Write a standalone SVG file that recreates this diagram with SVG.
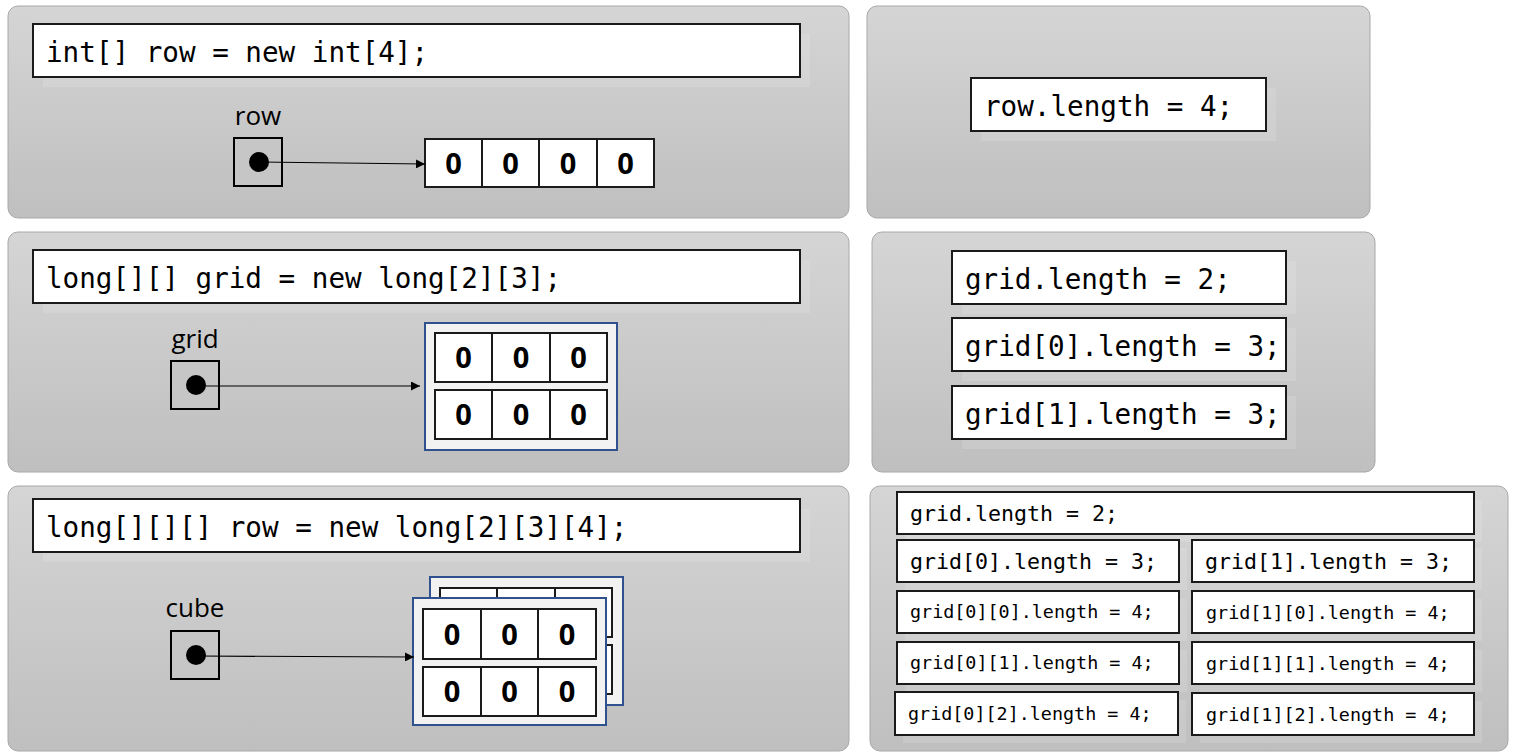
<svg xmlns="http://www.w3.org/2000/svg" width="1515" height="756" viewBox="0 0 1515 756">
<defs>
<linearGradient id="pg" x1="0" y1="0" x2="0" y2="1">
<stop offset="0" stop-color="#d5d5d5"/>
<stop offset="1" stop-color="#bfbfbf"/>
</linearGradient>
<marker id="ah" viewBox="0 0 10 10" refX="10" refY="5" markerWidth="9" markerHeight="9" markerUnits="userSpaceOnUse" orient="auto">
<path d="M0,0 L10,5 L0,10 z" fill="#000"/>
</marker>
</defs>
<style>
.panel{fill:url(#pg);stroke:#a8a8a8;stroke-width:1}
.box{fill:#fff;stroke:#1a1a1a;stroke-width:2}
.sh{fill:#fff;opacity:0.13}
.code{font-family:"DejaVu Sans Mono","Liberation Mono",monospace;font-size:27.6px;fill:#000}
.c2{font-family:"DejaVu Sans Mono","Liberation Mono",monospace;font-size:21.6px;fill:#000}
.c3{font-family:"DejaVu Sans Mono","Liberation Mono",monospace;font-size:18.4px;fill:#000}
.lbl{font-family:"Open Sans","Noto Sans",sans-serif;font-size:26px;fill:#000;text-anchor:middle}
.ref{fill:#c6c6c6;stroke:#000;stroke-width:2}
.cell{fill:#fff;stroke:#1a1a1a;stroke-width:2}
.zero{font-family:"Open Sans","Noto Sans",sans-serif;font-weight:bold;font-size:29px;fill:#000;text-anchor:middle}
.cont{fill:#f2f2f2;stroke:#2f528f;stroke-width:2}
.conn{stroke:#000;stroke-width:1.2;fill:none}
</style>

<g id="panels">
<rect class="panel" x="8" y="6" width="841" height="212" rx="10"/>
<rect class="panel" x="867" y="6" width="503" height="212" rx="10"/>
<rect class="panel" x="8" y="232" width="841" height="240" rx="10"/>
<rect class="panel" x="872" y="232" width="503" height="240" rx="10"/>
<rect class="panel" x="8" y="486" width="841" height="265" rx="10"/>
<rect class="panel" x="870" y="486" width="638" height="265" rx="10"/>
</g>

<g id="code1">
<rect class="sh" x="43" y="34" width="767" height="53"/>
<rect class="box" x="33" y="24" width="767" height="53"/>
<text class="code" x="46" y="62">int[] row = new int[4];</text>
</g>
<g id="len1">
<rect class="sh" x="981" y="88" width="295" height="53"/>
<rect class="box" x="971" y="78" width="295" height="53"/>
<text class="code" x="984" y="116">row.length = 4;</text>
</g>
<g id="ref-row">
<text class="lbl" x="258" y="125">row</text>
<rect class="ref" x="234" y="138" width="48" height="48"/>
<circle cx="259" cy="162" r="10" fill="#000"/>
</g>
<g id="array-row">
<rect class="cell" x="425" y="139" width="57" height="48"/>
<rect class="cell" x="482" y="139" width="57" height="48"/>
<rect class="cell" x="539" y="139" width="58" height="48"/>
<rect class="cell" x="597" y="139" width="57" height="48"/>
<text class="zero" x="453.5" y="173.5">0</text>
<text class="zero" x="510.5" y="173.5">0</text>
<text class="zero" x="568" y="173.5">0</text>
<text class="zero" x="625.5" y="173.5">0</text>
</g>

<g id="code2">
<rect class="sh" x="43" y="260" width="767" height="53"/>
<rect class="box" x="33" y="250" width="767" height="53"/>
<text class="code" x="46" y="288">long[][] grid = new long[2][3];</text>
</g>
<g id="len2">
<rect class="sh" x="962" y="261" width="334" height="53"/>
<rect class="box" x="952" y="251" width="334" height="53"/>
<text class="code" x="965" y="289">grid.length = 2;</text>
<rect class="sh" x="962" y="328" width="334" height="53"/>
<rect class="box" x="952" y="318" width="334" height="53"/>
<text class="code" x="965" y="356">grid[0].length = 3;</text>
<rect class="sh" x="962" y="396" width="334" height="53"/>
<rect class="box" x="952" y="386" width="334" height="53"/>
<text class="code" x="965" y="424">grid[1].length = 3;</text>
</g>
<g id="ref-grid">
<text class="lbl" x="195" y="348">grid</text>
<rect class="ref" x="171" y="361" width="48" height="48"/>
<circle cx="196" cy="385" r="10" fill="#000"/>
</g>
<g id="array-grid">
<rect class="cont" x="425" y="323" width="192" height="127"/>
<rect class="cell" x="435" y="333" width="57" height="49"/>
<rect class="cell" x="492" y="333" width="58" height="49"/>
<rect class="cell" x="550" y="333" width="57" height="49"/>
<rect class="cell" x="435" y="390" width="57" height="49"/>
<rect class="cell" x="492" y="390" width="58" height="49"/>
<rect class="cell" x="550" y="390" width="57" height="49"/>
<text class="zero" x="463.5" y="368">0</text>
<text class="zero" x="521" y="368">0</text>
<text class="zero" x="578.5" y="368">0</text>
<text class="zero" x="463.5" y="425">0</text>
<text class="zero" x="521" y="425">0</text>
<text class="zero" x="578.5" y="425">0</text>
</g>

<g id="code3">
<rect class="sh" x="43" y="509" width="767" height="53"/>
<rect class="box" x="33" y="499" width="767" height="53"/>
<text class="code" x="46" y="537">long[][][] row = new long[2][3][4];</text>
</g>
<g id="ref-cube">
<text class="lbl" x="195" y="617">cube</text>
<rect class="ref" x="171" y="631" width="48" height="48"/>
<circle cx="196" cy="655" r="10" fill="#000"/>
</g>
<g id="array-cube-back">
<rect class="cont" x="430" y="577" width="193" height="128"/>
<rect class="cell" x="440" y="588" width="57" height="49"/>
<rect class="cell" x="497" y="588" width="58" height="49"/>
<rect class="cell" x="555" y="588" width="57" height="49"/>
<rect class="cell" x="440" y="645" width="57" height="49"/>
<rect class="cell" x="497" y="645" width="58" height="49"/>
<rect class="cell" x="555" y="645" width="57" height="49"/>
</g>
<g id="array-cube-front">
<rect class="cont" x="413" y="598" width="193" height="127"/>
<rect class="cell" x="423" y="609" width="58" height="50"/>
<rect class="cell" x="481" y="609" width="57" height="50"/>
<rect class="cell" x="538" y="609" width="58" height="50"/>
<rect class="cell" x="423" y="667" width="58" height="49"/>
<rect class="cell" x="481" y="667" width="57" height="49"/>
<rect class="cell" x="538" y="667" width="58" height="49"/>
<text class="zero" x="452" y="644.5">0</text>
<text class="zero" x="509.5" y="644.5">0</text>
<text class="zero" x="567" y="644.5">0</text>
<text class="zero" x="452" y="701.5">0</text>
<text class="zero" x="509.5" y="701.5">0</text>
<text class="zero" x="567" y="701.5">0</text>
</g>

<g id="len3">
<rect class="sh" x="905" y="500" width="577" height="42"/>
<rect class="box" x="897" y="492" width="577" height="42"/>
<text class="c2" x="910" y="521">grid.length = 2;</text>
<rect class="sh" x="905" y="548" width="282" height="42"/>
<rect class="box" x="897" y="540" width="282" height="42"/>
<text class="c2" x="910" y="569">grid[0].length = 3;</text>
<rect class="sh" x="1200" y="548" width="282" height="42"/>
<rect class="box" x="1192" y="540" width="282" height="42"/>
<text class="c2" x="1205" y="569">grid[1].length = 3;</text>
<rect class="sh" x="905" y="599" width="282" height="42"/>
<rect class="box" x="897" y="591" width="282" height="42"/>
<text class="c3" x="910" y="618">grid[0][0].length = 4;</text>
<rect class="sh" x="1200" y="599" width="282" height="42"/>
<rect class="box" x="1192" y="591" width="282" height="42"/>
<text class="c3" x="1206" y="619">grid[1][0].length = 4;</text>
<rect class="sh" x="905" y="650" width="282" height="42"/>
<rect class="box" x="897" y="642" width="282" height="42"/>
<text class="c3" x="910" y="669">grid[0][1].length = 4;</text>
<rect class="sh" x="1200" y="650" width="282" height="42"/>
<rect class="box" x="1192" y="642" width="282" height="42"/>
<text class="c3" x="1206" y="670">grid[1][1].length = 4;</text>
<rect class="sh" x="903" y="700" width="283" height="43"/>
<rect class="box" x="895" y="692" width="283" height="43"/>
<text class="c3" x="908" y="720">grid[0][2].length = 4;</text>
<rect class="sh" x="1200" y="701" width="282" height="42"/>
<rect class="box" x="1192" y="693" width="282" height="42"/>
<text class="c3" x="1206" y="721">grid[1][2].length = 4;</text>
</g>

<g id="connectors">
<line class="conn" x1="259" y1="162" x2="425" y2="164" marker-end="url(#ah)"/>
<line class="conn" x1="196" y1="386" x2="420" y2="386" marker-end="url(#ah)"/>
<line class="conn" x1="196" y1="656" x2="414" y2="657" marker-end="url(#ah)"/>
</g>
</svg>
